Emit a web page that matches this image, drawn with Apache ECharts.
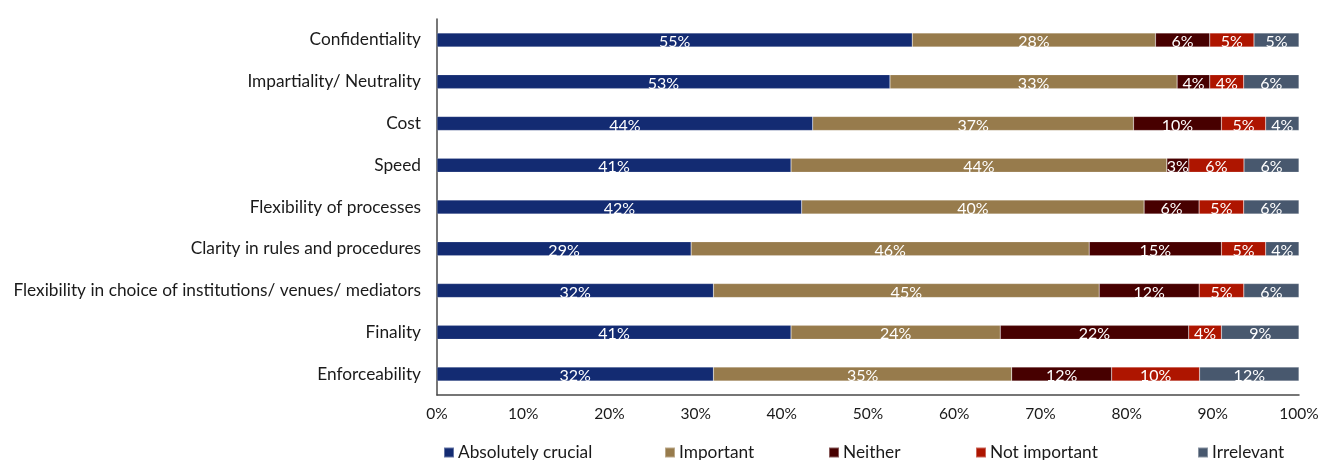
<!DOCTYPE html>
<html>
<head>
<meta charset="utf-8">
<script src="https://cdn.jsdelivr.net/npm/echarts@6/dist/echarts.min.js"></script>
<style>
  html, body { margin: 0; padding: 0; background: #fff; }
  #chart { width: 1322px; height: 460px; }
</style>
</head>
<body>
<div id="chart"></div>
<script>
// categories, top to bottom
const categories = [
  "Confidentiality",
  "Impartiality/ Neutrality",
  "Cost",
  "Speed",
  "Flexibility of processes",
  "Clarity in rules and procedures",
  "Flexibility in choice of institutions/ venues/ mediators",
  "Finality",
  "Enforceability"
];

// shares in %
const absolutelyCrucial = [55.13, 52.55, 43.59, 41.07, 42.31, 29.48, 32.07, 41.07, 32.07];
const important         = [28.22, 33.31, 37.21, 43.60, 39.72, 46.18, 44.75, 24.27, 34.60];
const neither           = [6.30, 3.79, 10.20, 2.55, 6.38, 15.34, 11.60, 21.87, 11.60];
const notImportant      = [5.13, 3.94, 5.14, 6.40, 5.18, 5.14, 5.18, 3.79, 10.20];
const irrelevant        = [5.22, 6.41, 3.86, 6.38, 6.41, 3.86, 6.40, 9.00, 11.53];

const xTicks = [0, 10, 20, 30, 40, 50, 60, 70, 80, 90, 100];

const seriesDefs = [
  { name: "Absolutely crucial", data: absolutelyCrucial, color: "#132b72", legendLeft: 438 },
  { name: "Important", data: important, color: "#977b4c", legendLeft: 659 },
  { name: "Neither", data: neither, color: "#470000", legendLeft: 823 },
  { name: "Not important", data: notImportant, color: "#ae1500", legendLeft: 970 },
  { name: "Irrelevant", data: irrelevant, color: "#48586e", legendLeft: 1192 }
];

const font = "Lato, 'Open Sans', sans-serif";
const chart = echarts.init(document.getElementById("chart"));

const options = {
  animation: false,
  textStyle: { fontFamily: font },
  grid: { left: 437, right: 23, top: 19, bottom: 65, containLabel: false },
  legend: seriesDefs.map(s => ({
    data: [s.name],
    left: s.legendLeft,
    top: 439,
    icon: "rect",
    itemWidth: 10,
    itemHeight: 10,
    selectedMode: false,
    textStyle: { fontFamily: font, fontSize: 17.3, color: "#1a1a1a", padding: [0, 0, 0, -1] }
  })),
  xAxis: {
    type: "value",
    min: xTicks[0],
    max: xTicks[xTicks.length - 1],
    interval: 10,
    axisLine: { show: true, lineStyle: { color: "#4a4a4a", width: 1.5 } },
    axisTick: { show: false },
    splitLine: { show: false },
    axisLabel: {
      color: "#1a1a1a",
      fontSize: 15.5,
      fontFamily: font,
      margin: 11,
      formatter: v => v + "%"
    }
  },
  yAxis: {
    type: "category",
    data: categories,
    inverse: true,
    axisLine: { show: true, lineStyle: { color: "#4a4a4a", width: 1.5 } },
    axisTick: { show: false },
    axisLabel: { color: "#1a1a1a", fontSize: 17.3, fontFamily: font, margin: 16 }
  },
  series: seriesDefs.map(s => ({
    name: s.name,
    type: "bar",
    stack: "total",
    barWidth: 14,
    data: s.data,
    itemStyle: { color: s.color, borderColor: "rgba(255,255,255,0.35)", borderWidth: 0.5 },
    label: {
      show: true,
      position: "inside",
      color: "#ffffff",
      fontSize: 16,
      fontFamily: font,
      offset: [0, 2],
      formatter: p => Math.round(p.value) + "%"
    }
  }))
};

chart.setOption(options);
</script>
</body>
</html>
